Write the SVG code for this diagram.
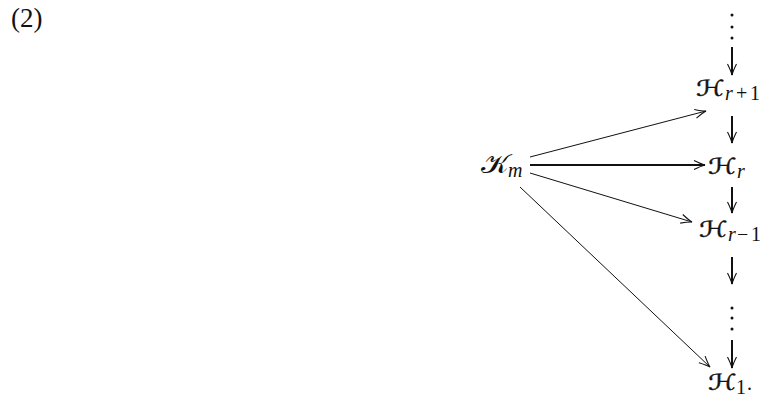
<svg xmlns="http://www.w3.org/2000/svg" width="760" height="402" viewBox="0 0 760 402">
<style>
  .h { font-family: "DejaVu Sans", "DejaVu Serif", serif; font-size: 22px; fill: #111; stroke: #111; stroke-width: 0.4; }
  .k { font-family: "DejaVu Sans", "DejaVu Serif", serif; font-size: 26px; fill: #111; }
  .s { font-size: 20px; font-family: "Liberation Serif", serif; fill: #111; }
  .si { font-size: 20px; font-family: "Liberation Serif", serif; font-style: italic; fill: #111; }
  .thin { stroke: #111; stroke-width: 1; fill: none; }
  .thick { stroke: #111; stroke-width: 2; fill: none; }
  .dot { fill: #111; }
</style>
<defs>
  <marker id="ah" markerUnits="userSpaceOnUse" markerWidth="14" markerHeight="12" refX="0" refY="0" viewBox="-12 -6 14 12" orient="auto" overflow="visible">
    <path d="M -11 -4.5 Q -4 -1 0 0 Q -4 1 -11 4.5" fill="none" stroke="#111" stroke-width="1.1"/>
  </marker>
</defs>
<text x="11" y="27" style="font-family:'Liberation Serif',serif;font-size:27px;fill:#111">(2)</text>

<g id="connectors">
  <g id="top-dots">
    <circle class="dot" cx="732" cy="15" r="1.5"/>
    <circle class="dot" cx="732" cy="27" r="1.5"/>
    <circle class="dot" cx="732" cy="38" r="1.5"/>
  </g>
  <line class="thick" x1="732" y1="47" x2="732" y2="75" marker-end="url(#ah)"/>
  <line class="thick" x1="732" y1="116" x2="732" y2="143" marker-end="url(#ah)"/>
  <line class="thick" x1="732" y1="187" x2="732" y2="213" marker-end="url(#ah)"/>
  <line class="thick" x1="732" y1="257" x2="732" y2="284" marker-end="url(#ah)"/>
  <g id="bottom-dots">
    <circle class="dot" cx="732" cy="308" r="1.5"/>
    <circle class="dot" cx="732" cy="318" r="1.5"/>
    <circle class="dot" cx="732" cy="329" r="1.5"/>
  </g>
  <line class="thick" x1="732" y1="340" x2="732" y2="368" marker-end="url(#ah)"/>
  <line class="thin" x1="530" y1="157" x2="706" y2="111" marker-end="url(#ah)"/>
  <line class="thick" x1="530" y1="165" x2="705" y2="165" marker-end="url(#ah)"/>
  <line class="thin" x1="530" y1="173" x2="692" y2="222" marker-end="url(#ah)"/>
  <line class="thin" x1="520" y1="187" x2="710" y2="367" marker-end="url(#ah)"/>
</g>

<g id="K_m">
  <text class="k" transform="translate(481,173) scale(1.15,1)">𝒦</text>
  <text class="si" x="508" y="177">m</text>
</g>
<g id="H_r+1">
  <text class="h" transform="translate(696,96) scale(1.32,1)">ℋ</text>
  <text class="si" x="725" y="100">r</text>
  <text class="s" x="736" y="100">+</text>
  <text class="s" x="750" y="100">1</text>
</g>
<g id="H_r">
  <text class="h" transform="translate(708,174) scale(1.32,1)">ℋ</text>
  <text class="si" x="737" y="178">r</text>
</g>
<g id="H_r-1">
  <text class="h" transform="translate(699,237) scale(1.32,1)">ℋ</text>
  <text class="si" x="728" y="241">r</text>
  <text class="s" x="737" y="241">−</text>
  <text class="s" x="751" y="241">1</text>
</g>
<g id="H_1">
  <text class="h" transform="translate(708,390) scale(1.32,1)">ℋ</text>
  <text class="s" x="736" y="394">1</text>
  <text class="s" x="747" y="390">.</text>
</g>
</svg>
